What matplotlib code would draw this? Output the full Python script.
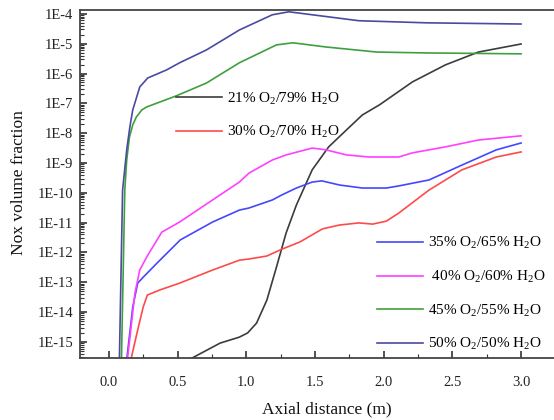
import numpy as np
import matplotlib
matplotlib.use("Agg")
import matplotlib.pyplot as plt
from matplotlib.ticker import FixedLocator, FuncFormatter, LogLocator, MultipleLocator, NullFormatter

plt.rcParams["font.family"] = ["Liberation Serif", "DejaVu Serif"]
plt.rcParams["mathtext.fontset"] = "custom"
plt.rcParams["mathtext.rm"] = "Liberation Serif"
plt.rcParams["mathtext.it"] = "Liberation Serif:italic"

# Axial NOx profiles, stored as log10(volume fraction)
x_21 = [0.50, 0.81, 0.95, 1.01, 1.075, 1.15, 1.22, 1.29, 1.365, 1.48, 1.60, 1.73, 1.845, 1.97, 2.21, 2.45, 2.69, 3.0]
y_21 = [-15.8, -15.04, -14.84, -14.70, -14.37, -13.60, -12.49, -11.35, -10.41, -9.23, -8.46, -7.89, -7.39, -7.05, -6.28, -5.71, -5.28, -5.01]

x_30 = [0.14, 0.21, 0.25, 0.28, 0.37, 0.515, 0.755, 0.95, 1.02, 1.15, 1.26, 1.39, 1.555, 1.68, 1.82, 1.92, 2.02, 2.11, 2.33, 2.57, 2.82, 3.0]
y_30 = [-16.0, -14.60, -13.83, -13.43, -13.26, -13.03, -12.59, -12.26, -12.22, -12.12, -11.89, -11.65, -11.21, -11.08, -11.01, -11.05, -10.95, -10.68, -9.91, -9.23, -8.80, -8.63]

x_35 = [0.12, 0.174, 0.21, 0.25, 0.35, 0.52, 0.755, 0.95, 1.02, 1.19, 1.26, 1.365, 1.48, 1.55, 1.68, 1.845, 2.02, 2.11, 2.33, 2.57, 2.82, 3.0]
y_35 = [-16.0, -13.83, -13.03, -12.83, -12.36, -11.58, -10.98, -10.58, -10.51, -10.24, -10.07, -9.84, -9.64, -9.60, -9.74, -9.84, -9.84, -9.77, -9.57, -9.07, -8.56, -8.33]

x_40 = [0.125, 0.19, 0.225, 0.276, 0.385, 0.515, 0.755, 0.95, 1.02, 1.19, 1.29, 1.48, 1.58, 1.73, 1.895, 2.11, 2.21, 2.45, 2.69, 3.0]
y_40 = [-16.0, -13.36, -12.59, -12.15, -11.32, -10.98, -10.24, -9.64, -9.34, -8.90, -8.73, -8.50, -8.56, -8.73, -8.80, -8.80, -8.66, -8.46, -8.23, -8.09]

x_45 = [0.09, 0.116, 0.13, 0.15, 0.174, 0.20, 0.24, 0.276, 0.49, 0.71, 0.95, 1.22, 1.34, 1.58, 1.95, 2.31, 3.0]
y_45 = [-16.0, -9.91, -8.90, -8.13, -7.72, -7.46, -7.22, -7.12, -6.75, -6.32, -5.64, -5.04, -4.97, -5.11, -5.28, -5.31, -5.34]

x_50 = [0.075, 0.10, 0.13, 0.153, 0.174, 0.225, 0.283, 0.42, 0.515, 0.71, 0.95, 1.19, 1.31, 1.48, 1.82, 2.31, 3.0]
y_50 = [-16.0, -9.91, -8.56, -7.79, -7.22, -6.45, -6.15, -5.88, -5.64, -5.21, -4.54, -4.03, -3.93, -4.03, -4.23, -4.30, -4.34]

labels = [
    "21% O$_2$/79% H$_2$O",
    "30% O$_2$/70% H$_2$O",
    "35% O$_2$/65% H$_2$O",
    " 40% O$_2$/60% H$_2$O",
    "45% O$_2$/55% H$_2$O",
    "50% O$_2$/50% H$_2$O",
]
colors = ["#3c3c3c", "#ff4a4a", "#4646ff", "#ff40ff", "#3f9f3f", "#4a4aa0"]

x_ticks = [0.0, 0.5, 1.0, 1.5, 2.0, 2.5, 3.0]
y_tick_exps = list(range(-15, -3))

series = [(x_21, y_21), (x_30, y_30), (x_35, y_35), (x_40, y_40), (x_45, y_45), (x_50, y_50)]

fig = plt.figure(figsize=(5.54, 4.20), dpi=100)
ax = fig.add_axes([80 / 554, 62 / 420, 474 / 554, 348 / 420])

handles = []
for (xs, ys), c, lab in zip(series, colors, labels):
    h, = ax.plot(xs, 10.0 ** np.array(ys), color=c, lw=1.2, label=lab)
    handles.append(h)

ax.set_yscale("log")
ax.set_xlim(-0.21, 3.24)
ax.set_ylim(10 ** -15.54, 10 ** -3.87)

ax.xaxis.set_major_locator(FixedLocator(x_ticks))
ax.xaxis.set_minor_locator(MultipleLocator(0.25))
ax.xaxis.set_major_formatter(FuncFormatter(lambda v, p: f"{v:.1f}"))
ax.yaxis.set_major_locator(FixedLocator([10.0 ** e for e in y_tick_exps]))
ax.yaxis.set_minor_locator(LogLocator(base=10, subs=np.arange(2, 10), numticks=50))
ax.yaxis.set_minor_formatter(NullFormatter())
ax.yaxis.set_major_formatter(FuncFormatter(lambda v, p: f"1E{int(round(np.log10(v)))}"))

ax.tick_params(axis="both", which="major", direction="in", length=5, width=1.2, colors="#333333", labelcolor="#222222")
ax.tick_params(axis="both", which="minor", direction="in", length=3, width=0.8, colors="#333333")
ax.tick_params(axis="x", which="major", labelsize=10.5, pad=13)
ax.tick_params(axis="y", which="major", labelsize=10.5, pad=5)

for side in ("left", "bottom", "top"):
    ax.spines[side].set_linewidth(1.3)
    ax.spines[side].set_color("#444444")
ax.spines["right"].set_visible(False)

ax.set_xlabel("Axial distance (m)", fontsize=12.5, color="#111111")
ax.set_ylabel("Nox volume fraction", fontsize=12.5, color="#111111")
ax.xaxis.set_label_coords(0.521, -0.126)
ax.yaxis.set_label_coords(-0.112, 0.503)

leg1 = ax.legend(handles[:2], labels[:2], loc="upper left", bbox_to_anchor=(0.19, 0.786),
                 frameon=False, fontsize=11, handlelength=3.0, handletextpad=0.35,
                 labelspacing=1.15, borderaxespad=0)
ax.add_artist(leg1)
leg2 = ax.legend(handles[2:], labels[2:], loc="upper left", bbox_to_anchor=(0.614, 0.37),
                 frameon=False, fontsize=11, handlelength=3.0, handletextpad=0.35,
                 labelspacing=1.15, borderaxespad=0)

fig.savefig("out.png", dpi=100)
